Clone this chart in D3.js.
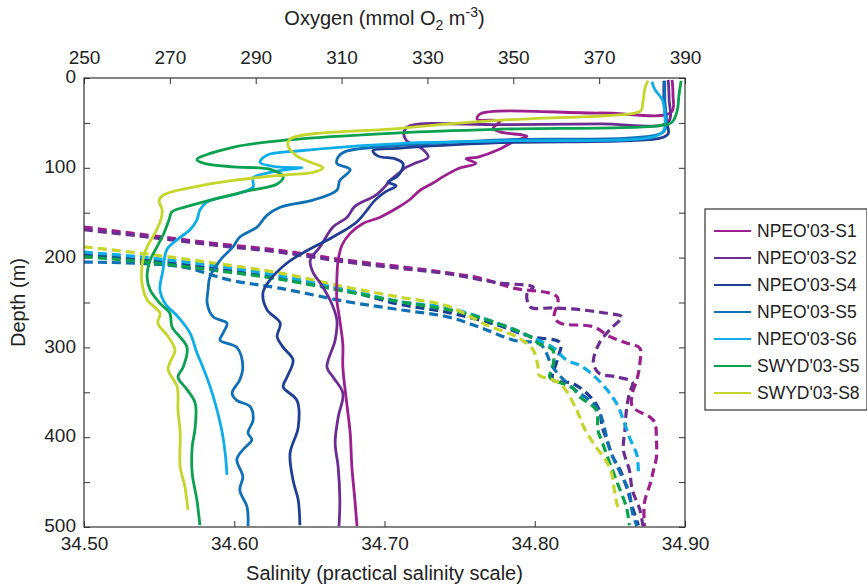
<!DOCTYPE html>
<html>
<head>
<meta charset="utf-8">
<script src="https://cdn.jsdelivr.net/npm/d3@7"></script>
<style>
  body { margin: 0; background: #fff; }
  text { font-family: "Liberation Sans", Arial, sans-serif; fill: #222; }
</style>
</head>
<body>
<div id="chart"></div>
<script>
// station names (legend order)
var stations = ["NPEO'03-S1", "NPEO'03-S2", "NPEO'03-S4", "NPEO'03-S5", "NPEO'03-S6", "SWYD'03-S5", "SWYD'03-S8"];

// oxygen profiles: [depth m, oxygen mmol O2 m-3]  (solid lines, top axis)
var oxyS1 = [[2,387],[19,387.2],[38,386.8],[39,370],[40,342.3],[46,341.6],[48,346.9],[56,345.3],[60,346.9],[65,353.2],[70,350.4],[80,346.5],[88,341.8],[90,339],[95,341.3],[101,337.1],[110,333.6],[117,331.3],[125,328.3],[135,326],[144,323.2],[155,319],[162,315],[173,312],[186,310.1],[203,309.2],[225,308.9],[247,308.9],[270,309.6],[297,310.3],[322,310.3],[366,311.3],[395,312],[433,312.4],[470,313.1],[499,313.6]];
var oxyS2 = [[2,386.1],[24,386.3],[49,386.1],[51,370.2],[52,346.9],[53,326],[59,324.6],[69,325],[79,328.8],[88,330.2],[95,327.1],[100,324.8],[105,323.6],[114,321.3],[121,320.1],[131,317.8],[143,313.1],[155,311.3],[166,308],[188,305],[203,302.7],[217,303.4],[228,305],[247,307.3],[269,308.9],[292,308.5],[322,306.6],[333,308],[351,310.3],[378,309.2],[406,308.5],[433,309.2],[470,309.6],[499,309.4]];
var oxyS4 = [[3,385.1],[24,385.1],[47,385.6],[62,386.1],[67,384.2],[72,346.9],[78,323.6],[81,317.3],[87,318.5],[90,322.5],[95,324.3],[102,324.1],[110,322.9],[116,320.8],[120,322.7],[127,320.1],[136,317.8],[160,313.6],[177,308],[192,302],[206,297.3],[225,293.3],[239,291.7],[258,292.6],[273,295.7],[288,295],[300,296.4],[314,298.7],[333,297.3],[344,296.4],[359,299.6],[389,299.9],[418,298],[448,298.7],[470,299.9],[498,300.3]];
var oxyS5 = [[3,385.3],[24,385.3],[52,385.6],[61,384.7],[69,346.9],[75,323.6],[82,310.8],[88,309.2],[95,308.9],[102,312],[114,309.6],[125,308.9],[136,303.3],[144,295.7],[153,292.6],[166,290.3],[177,286.3],[188,284.7],[203,281.7],[222,279.3],[236,278.9],[251,278.7],[266,280.1],[273,283.3],[284,282.4],[292,281.7],[300,285.6],[322,287],[336,286.3],[351,284.5],[359,285.6],[366,288.7],[381,289.4],[395,288.2],[403,289.1],[414,287],[425,285.6],[444,287],[459,286.3],[478,288],[499,288.2]];
var oxyS6 = [[4,382.3],[13,383],[24,384.7],[41,385.3],[58,385.1],[65,383],[70,346.9],[73,323.6],[81,300.3],[86,292.6],[94,291],[99,295],[100,300.8],[102,297.3],[106,292.6],[111,289.4],[121,289.4],[128,286.3],[138,278.7],[147,277],[158,276.3],[169,274.7],[180,271.7],[191,269.3],[214,268.4],[236,267.7],[251,268.9],[266,271.9],[284,274.7],[306,276.3],[322,277.7],[344,279.4],[370,281],[395,282.2],[418,282.9],[442,283.3]];
var oxyW5 = [[3,389.1],[19,388.6],[36,388.2],[49,387],[53,384.2],[57,346.9],[61,323.6],[69,297.3],[77,284.9],[91,276.3],[95,278],[99,284.9],[102,293.6],[110,296.4],[118,295],[125,288.9],[134,281],[144,273.3],[149,270.5],[158,269.8],[173,268.6],[188,267],[203,265.4],[222,264.7],[236,265.4],[251,267.7],[262,270],[277,270.5],[300,274],[322,273.1],[333,271.9],[347,274],[362,275.9],[389,275.9],[411,275.2],[440,275.2],[470,276.3],[498,277]];
var oxyW8 = [[3,381.4],[11,380.7],[27,380.2],[36,379.8],[39,378.4],[47,346.9],[56,323.6],[68,298],[75,297.5],[87,299.6],[95,303.4],[100,305.7],[105,303.4],[108,296.6],[114,284.9],[122,274.9],[130,268.6],[136,267.5],[147,268.2],[158,267.9],[173,266.5],[188,264.7],[203,263.7],[228,263.5],[247,264.7],[262,267.7],[273,267.2],[288,269.6],[303,271.2],[317,270],[325,269.6],[344,271.7],[370,271.9],[395,272.4],[433,272.4],[455,273.5],[481,274.2]];

// salinity profiles: [depth m, salinity]  (dashed lines, bottom axis)
var salS1 = [[166,34.5],[175,34.542],[184,34.586],[192,34.63],[203,34.675],[210,34.71],[217,34.742],[223,34.764],[234,34.786],[244,34.815],[266,34.813],[273,34.817],[277,34.839],[288,34.85],[295,34.861],[301,34.87],[317,34.87],[336,34.868],[351,34.865],[366,34.865],[378,34.877],[384,34.88],[403,34.881],[422,34.881],[437,34.879],[451,34.877],[473,34.873],[499,34.873]];
var salS2 = [[169,34.5],[177,34.542],[186,34.586],[194,34.63],[205,34.675],[212,34.71],[218,34.742],[228,34.775],[233,34.799],[239,34.795],[255,34.797],[256,34.812],[258,34.83],[262,34.848],[266,34.858],[277,34.852],[284,34.848],[295,34.843],[317,34.839],[329,34.843],[333,34.855],[339,34.865],[351,34.863],[370,34.861],[392,34.86],[414,34.859],[437,34.863],[459,34.865],[481,34.87],[499,34.872]];
var salS4 = [[197,34.5],[203,34.542],[212,34.586],[223,34.63],[237,34.675],[252,34.71],[261,34.742],[275,34.775],[288,34.797],[295,34.817],[314,34.815],[336,34.812],[340,34.825],[355,34.837],[370,34.843],[389,34.845],[403,34.848],[422,34.852],[437,34.857],[455,34.861],[478,34.865],[498,34.869]];
var salS5 = [[205,34.5],[210,34.564],[225,34.597],[234,34.63],[249,34.675],[258,34.71],[266,34.742],[278,34.764],[292,34.786],[297,34.804],[322,34.812],[342,34.823],[366,34.841],[381,34.845],[414,34.85],[440,34.857],[462,34.863],[484,34.865],[499,34.868]];
var salS6 = [[194,34.5],[200,34.542],[209,34.586],[220,34.63],[236,34.675],[249,34.71],[256,34.742],[273,34.775],[288,34.797],[300,34.812],[314,34.821],[320,34.83],[331,34.839],[347,34.848],[364,34.855],[381,34.859],[400,34.863],[420,34.868],[442,34.869]];
var salW5 = [[199,34.5],[205,34.542],[214,34.586],[224,34.63],[238,34.675],[249,34.71],[258,34.742],[267,34.764],[288,34.797],[295,34.802],[303,34.812],[322,34.812],[333,34.81],[345,34.825],[355,34.83],[370,34.841],[392,34.842],[406,34.845],[429,34.85],[451,34.855],[478,34.861],[498,34.863]];
var salW8 = [[188,34.5],[196,34.542],[206,34.586],[217,34.63],[233,34.675],[244,34.71],[254,34.742],[275,34.768],[290,34.79],[303,34.799],[320,34.802],[331,34.803],[336,34.812],[344,34.819],[370,34.828],[390,34.833],[409,34.84],[425,34.847],[439,34.851],[459,34.853],[476,34.855],[483,34.857]];

// tick values
var oxyTicks = [250, 270, 290, 310, 330, 350, 370, 390];
var salTicks = [34.5, 34.6, 34.7, 34.8, 34.9];
var depthTicks = [0, 50, 100, 150, 200, 250, 300, 350, 400, 450, 500];

var oxyData = [oxyS1, oxyS2, oxyS4, oxyS5, oxyS6, oxyW5, oxyW8];
var salData = [salS1, salS2, salS4, salS5, salS6, salW5, salW8];
var colors = ["#9c1f8e", "#6b2d91", "#1f3f94", "#1070b6", "#0cade8", "#0ba14f", "#c6d52b"];

// svg size and plot box
var svgWidth = 867;
var svgHeight = 585;
var margin = { top: 78, right: 182, bottom: 58, left: 84 };
var width = svgWidth - margin.left - margin.right;
var height = svgHeight - margin.top - margin.bottom;

var svg = d3.select("#chart")
  .append("svg")
  .attr("width", svgWidth)
  .attr("height", svgHeight);

var chartGroup = svg.append("g")
  .attr("transform", `translate(${margin.left}, ${margin.top})`);

// scales
var xOxy = d3.scaleLinear().domain([250, 390]).range([0, width]);
var xSal = d3.scaleLinear().domain([34.5, 34.9]).range([0, width]);
var yDepth = d3.scaleLinear().domain([0, 500]).range([0, height]);

// axes, ticks pointing inwards
var topAxis = d3.axisTop(xOxy).tickValues(oxyTicks).tickSizeInner(-6).tickSizeOuter(0).tickPadding(14);
var bottomAxis = d3.axisBottom(xSal).tickValues(salTicks).tickFormat(d3.format(".2f"))
  .tickSizeInner(-6).tickSizeOuter(0).tickPadding(10);
var leftAxis = d3.axisLeft(yDepth).tickValues(depthTicks)
  .tickFormat(d => d % 100 === 0 ? d : "").tickSizeInner(-6).tickSizeOuter(0).tickPadding(8);
var rightAxis = d3.axisRight(yDepth).tickValues(depthTicks).tickFormat("").tickSizeInner(-6).tickSizeOuter(0);

function styleAxis(g) {
  g.select(".domain").remove();
  g.selectAll(".tick line").attr("stroke", "#333");
  g.selectAll(".tick text")
    .attr("font-size", "19px")
    .attr("font-family", "'Liberation Sans', Arial, sans-serif")
    .attr("fill", "#222");
}

chartGroup.append("g").call(topAxis).call(styleAxis);
chartGroup.append("g").attr("transform", `translate(0, ${height})`).call(bottomAxis).call(styleAxis);
chartGroup.append("g").call(leftAxis).call(styleAxis)
  .selectAll(".tick text").attr("dy", "0.25em");
chartGroup.append("g").attr("transform", `translate(${width}, 0)`).call(rightAxis).call(styleAxis);

// clip to plot box
chartGroup.append("clipPath").attr("id", "plotClip")
  .append("rect").attr("width", width).attr("height", height);

var plot = chartGroup.append("g").attr("clip-path", "url(#plotClip)");

var oxyLine = d3.line().x(d => xOxy(d[1])).y(d => yDepth(d[0])).curve(d3.curveCatmullRom.alpha(0.5));
var salLine = d3.line().x(d => xSal(d[1])).y(d => yDepth(d[0])).curve(d3.curveCatmullRom.alpha(0.5));

// dashed salinity
plot.selectAll(".sal")
  .data(salData)
  .enter()
  .append("path")
  .attr("class", "sal")
  .attr("d", salLine)
  .attr("fill", "none")
  .attr("stroke", (d, i) => colors[i])
  .attr("stroke-width", 3.2)
  .attr("stroke-dasharray", "9,5");

// solid oxygen
plot.selectAll(".oxy")
  .data(oxyData)
  .enter()
  .append("path")
  .attr("class", "oxy")
  .attr("d", oxyLine)
  .attr("fill", "none")
  .attr("stroke", (d, i) => colors[i])
  .attr("stroke-width", 2.8)
  .attr("stroke-linejoin", "round");

// frame
chartGroup.append("rect")
  .attr("width", width)
  .attr("height", height)
  .attr("fill", "none")
  .attr("stroke", "#333")
  .attr("stroke-width", 1.2);

// axis titles
var topTitle = svg.append("text")
  .attr("x", margin.left + width / 2)
  .attr("y", 25)
  .attr("text-anchor", "middle")
  .attr("font-size", "20px");
topTitle.append("tspan").text("Oxygen (mmol O");
topTitle.append("tspan").attr("font-size", "14px").attr("dy", 5).text("2");
topTitle.append("tspan").attr("dy", -5).text(" m");
topTitle.append("tspan").attr("font-size", "14px").attr("dy", -8).text("-3");
topTitle.append("tspan").attr("dy", 8).text(")");

svg.append("text")
  .attr("x", margin.left + width / 2)
  .attr("y", 580)
  .attr("text-anchor", "middle")
  .attr("font-size", "20px")
  .text("Salinity (practical salinity scale)");

svg.append("text")
  .attr("transform", "rotate(-90)")
  .attr("x", -(margin.top + height / 2))
  .attr("y", 25)
  .attr("text-anchor", "middle")
  .attr("font-size", "20px")
  .text("Depth (m)");

// legend
var legend = svg.append("g").attr("transform", "translate(705, 209)");
legend.append("rect")
  .attr("width", 162)
  .attr("height", 201)
  .attr("fill", "#fff")
  .attr("stroke", "#333")
  .attr("stroke-width", 1.2);

var items = legend.selectAll(".item")
  .data(stations)
  .enter()
  .append("g")
  .attr("transform", (d, i) => `translate(0, ${22 + i * 27})`);

items.append("line")
  .attr("x1", 9).attr("x2", 46)
  .attr("stroke", (d, i) => colors[i])
  .attr("stroke-width", 2.2);

items.append("text")
  .attr("x", 52)
  .attr("dy", "0.35em")
  .attr("font-size", "17.5px")
  .text(d => d);
</script>
</body>
</html>
